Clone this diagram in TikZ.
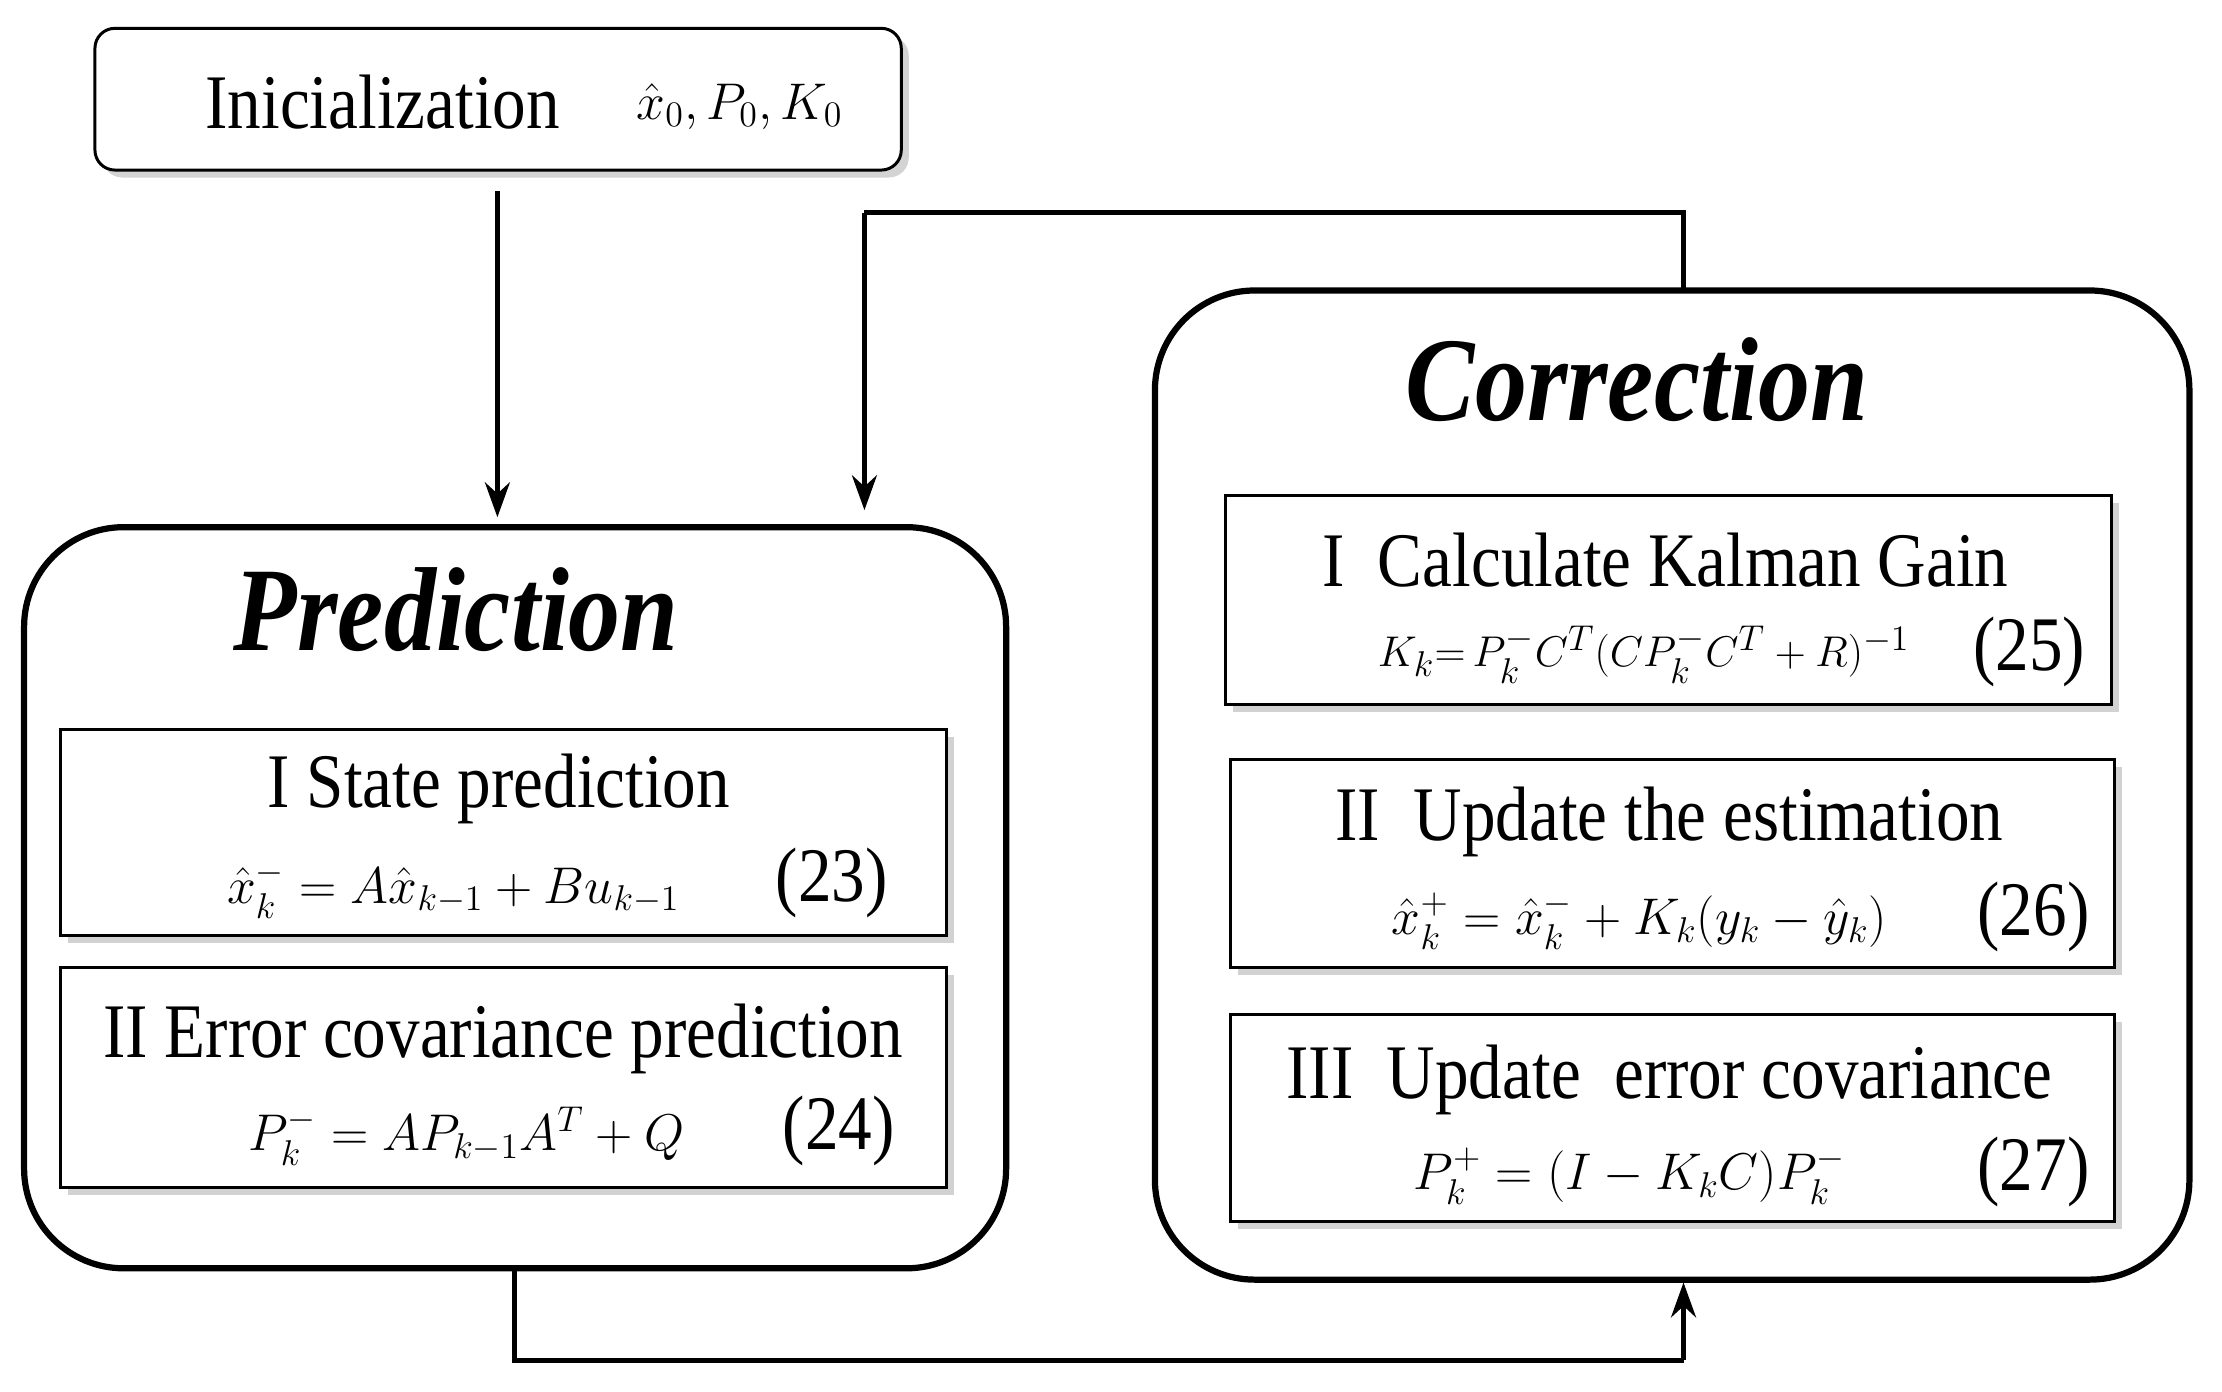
\documentclass[tikz,border=0pt]{standalone}
\usepackage{fontspec}
\setmainfont{Liberation Serif}
\usepackage{amsmath}
\usetikzlibrary{shadows,arrows.meta}
\newcommand{\sq}[1]{\scalebox{0.87}[1]{#1}}
\newcommand{\fs}[1]{\fontsize{#1}{#1}\selectfont}
\begin{document}
\begin{tikzpicture}[x=0.02cm,y=-0.02cm,
  box/.style={draw,line width=1.2pt,fill=white,drop shadow={shadow xshift=3pt,shadow yshift=-3pt,opacity=0.35}},
  big/.style={draw,line width=2.5pt,rounded corners=40pt,fill=white},
  arr/.style={line width=2pt,-{Stealth[length=14pt,width=10pt]}},
  ln/.style={line width=2pt},
  t/.style={inner sep=0pt}]
\useasboundingbox (0,0) rectangle (1568,982);
% init
\draw[box,rounded corners=8pt] (67,20) rectangle (636,120);
\node[t] at (270,72) {\fs{31}\sq{Inicialization}};
\node[t] at (522,75) {\fs{22}$\hat{x}_0,P_0,K_0$};
% prediction
\draw[big] (17,372) rectangle (710,895);
\node[t] at (322,430) {\fs{48}\sq{\textbf{\textit{Prediction}}}};
\draw[box] (43,515) rectangle (668,660);
\node[t] at (352,557) {\fs{31}\sq{I State prediction}};
\node[t] at (320,628) {\fs{20}$\hat{x}_k^- = A\hat{x}_{k-1}+Bu_{k-1}$};
\node[t] at (587,623) {\fs{31}\sq{(23)}};
\draw[box] (43,683) rectangle (668,838);
\node[t] at (355,733) {\fs{31}\sq{II Error covariance prediction}};
\node[t] at (329,802) {\fs{20}$P_k^- = AP_{k-1}A^T+Q$};
\node[t] at (592,798) {\fs{31}\sq{(24)}};
% correction
\draw[big] (815,205) rectangle (1545,903);
\node[t] at (1155,268) {\fs{48}\sq{\textbf{\textit{Correction}}}};
\draw[box] (865,350) rectangle (1490,497);
\node[t] at (1175,395) {\fs{31}\sq{I\ \ Calculate Kalman Gain}};
\node[t] at (1160,462) {\fs{19}$K_k{=}\,P_k^-C^T(CP_k^-C^T+R)^{-1}$};
\node[t] at (1432,460) {\fs{31}\sq{(25)}};
\draw[box] (868,536) rectangle (1492,683);
\node[t] at (1178,580) {\fs{31}\sq{II\ \ Update the estimation}};
\node[t] at (1157,650) {\fs{20}$\hat{x}_k^+ = \hat{x}_k^- + K_k(y_k-\hat{y}_k)$};
\node[t] at (1435,647) {\fs{31}\sq{(26)}};
\draw[box] (868,716) rectangle (1492,862);
\node[t] at (1178,762) {\fs{31}\sq{III\ \ Update\ \ error covariance}};
\node[t] at (1150,830) {\fs{20}$P_k^+ = (I-K_kC)P_k^-$};
\node[t] at (1435,827) {\fs{31}\sq{(27)}};
% connectors
\coordinate (a0) at (351,135); \coordinate (a1) at (351,365);
\draw[arr] (a0) -- (a1);
\coordinate (b0) at (1188,205); \coordinate (b1) at (1188,150); \coordinate (b2) at (610,150); \coordinate (b3) at (610,360);
\draw[ln] (b0) -- (b1) -- (b2);
\draw[arr] (b2) -- (b3);
\coordinate (c0) at (363,895); \coordinate (c1) at (363,960); \coordinate (c2) at (1188,960); \coordinate (c3) at (1188,905);
\draw[ln] (c0) -- (c1) -- (c2);
\draw[arr] (c2) -- (c3);
\end{tikzpicture}
\end{document}
